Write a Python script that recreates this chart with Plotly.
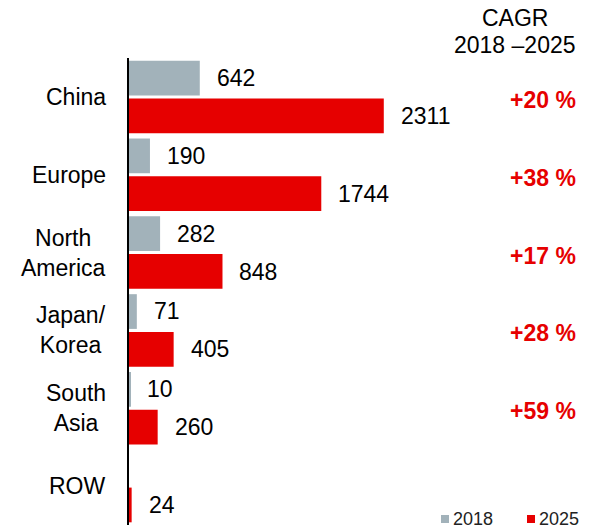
import plotly.graph_objects as go

categories = ["China", "Europe", "North America", "Japan/Korea", "South Asia", "ROW"]
cat_labels = ["China", "Europe", "North<br>America", "Japan/<br>Korea", "South<br>Asia", "ROW"]
v2018 = [642, 190, 282, 71, 10, None]
v2025 = [2311, 1744, 848, 405, 260, 24]
cagr = ["+20 %", "+38 %", "+17 %", "+28 %", "+59 %", ""]
series_names = ["2018", "2025"]

GREY = "#A2B2BA"
RED = "#E60000"
FONT = "Liberation Sans, Arial, sans-serif"

# page body has 8px default margin -> figure drawn at (8,8)
L, R, T, B = 121, 26, 50, 3
W, H = 588, 520
PW = W - L - R

def px2paper(xfig):
    return (xfig - L) / PW

fig = go.Figure()
fig.add_trace(go.Bar(y=categories, x=v2018, orientation="h", name=series_names[0],
                     marker=dict(color=GREY, line=dict(width=0))))
fig.add_trace(go.Bar(y=categories, x=v2025, orientation="h", name=series_names[1],
                     marker=dict(color=RED, line=dict(width=0))))

ann = []
for c, lab in zip(categories, cat_labels):
    ann.append(dict(x=px2paper(100), xref="paper", y=c, yref="y", text=lab, showarrow=False,
                    xanchor="right", yanchor="middle", align="center",
                    font=dict(size=23, color="black")))
for c, a, b, g in zip(categories, v2018, v2025, cagr):
    if a is not None:
        ann.append(dict(x=a, y=c, text=str(a), showarrow=False, xanchor="left",
                        yanchor="middle", xshift=15, yshift=19, font=dict(size=23, color="black")))
    if b is not None:
        ann.append(dict(x=b, y=c, text=str(b), showarrow=False, xanchor="left",
                        yanchor="middle", xshift=15, yshift=-19, font=dict(size=23, color="black")))
    if g:
        ann.append(dict(x=px2paper(535), xref="paper", y=c, yref="y", text="<b>%s</b>" % g,
                        showarrow=False, xanchor="center", yanchor="middle", yshift=-3,
                        font=dict(size=23, color=RED)))
ann.append(dict(x=px2paper(507), xref="paper", y=1.0, yref="paper", yanchor="middle", yshift=40,
                text="CAGR", showarrow=False, xanchor="center", font=dict(size=23, color="black")))
ann.append(dict(x=px2paper(507), xref="paper", y=1.0, yref="paper", yanchor="middle", yshift=13,
                text="2018 \u20132025", showarrow=False, xanchor="center",
                font=dict(size=23, color="black")))

# legend (manual)
shapes = []
for name, col, sq in zip(series_names, [GREY, RED], [433, 519]):
    shapes.append(dict(type="rect", xref="paper", yref="paper", xsizemode="pixel",
                       ysizemode="pixel", xanchor=px2paper(sq), yanchor=0,
                       x0=0, x1=8, y0=2, y1=10, fillcolor=col, line=dict(width=0)))
    ann.append(dict(x=px2paper(sq + 10), xref="paper", y=0, yref="paper", xanchor="left",
                    yanchor="middle", yshift=6, text=name, showarrow=False,
                    font=dict(size=18, color="#222222")))

fig.update_layout(
    width=W, height=H,
    margin=dict(l=L, r=R, t=T, b=B),
    paper_bgcolor="white", plot_bgcolor="white",
    font=dict(family=FONT, size=20, color="black"),
    barmode="group", bargap=0.03, bargroupgap=0.08,
    showlegend=False,
    xaxis=dict(range=[0, 4000], visible=False, showgrid=False, zeroline=False),
    yaxis=dict(autorange="reversed", showticklabels=False, ticks="", showgrid=False,
               zeroline=False, showline=True, linecolor="black", linewidth=2),
    annotations=ann,
    shapes=shapes,
)

fig.write_html("out.html")
